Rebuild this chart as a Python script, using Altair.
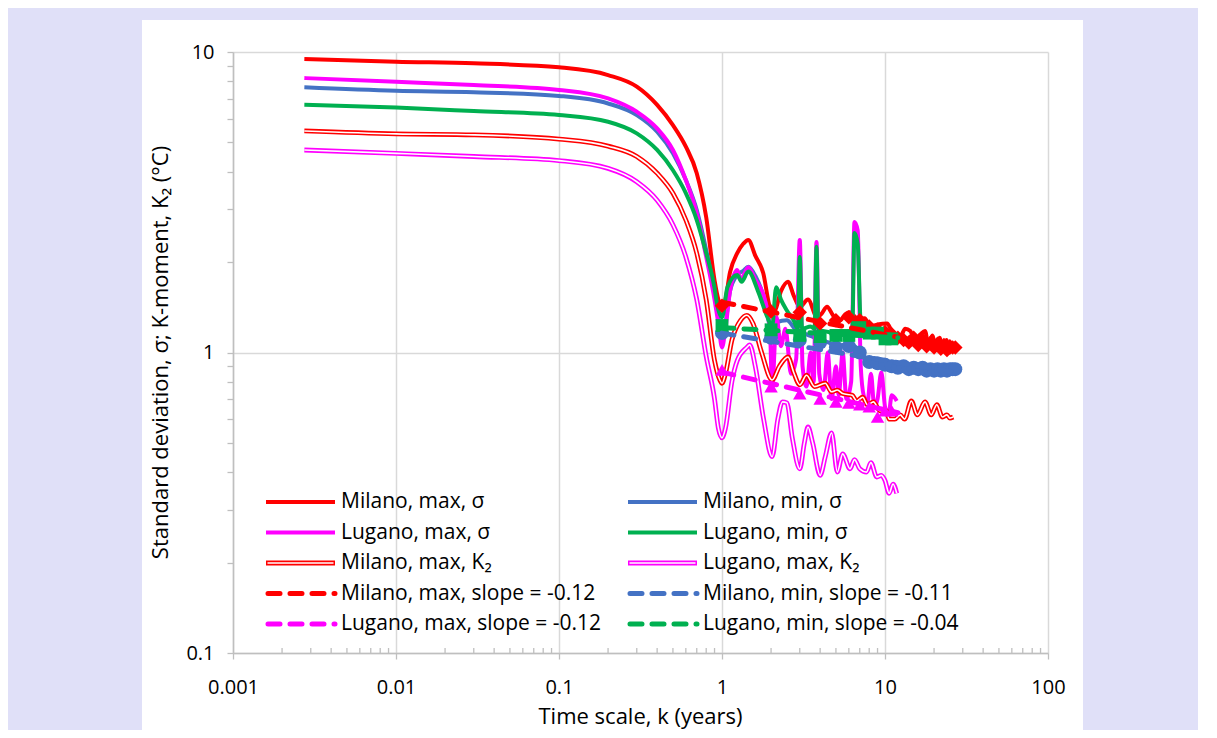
import math
import altair as alt
import pandas as pd

# ---------------- data ----------------
mil_max_sd_k = [0.00274, 0.01, 0.03, 0.1, 0.2, 0.3, 0.4, 0.5, 0.6, 0.7, 0.8, 0.9, 0.95, 1.0, 1.04, 1.12, 1.24, 1.35, 1.45, 1.6, 1.79, 1.97, 2.1, 2.3, 2.54, 2.75, 3.0, 3.37, 3.83, 4.1, 4.41, 4.8, 5.3, 5.7, 6.1, 6.5, 7.0, 7.5, 8.1, 9.0, 10.3, 11.0, 12.4, 13.3, 14.3, 15.2, 16.5, 17.6, 18.5, 19.5, 20.5, 21.6, 22.7, 23.8, 25.0, 26.0, 27.0]
mil_max_sd_v = [9.48, 9.28, 9.17, 8.89, 8.38, 7.67, 6.67, 5.71, 4.84, 3.95, 2.82, 1.74, 1.50, 1.43, 1.47, 1.85, 2.14, 2.30, 2.37, 2.10, 1.84, 1.42, 1.38, 1.60, 1.72, 1.55, 1.42, 1.50, 1.31, 1.35, 1.42, 1.33, 1.28, 1.34, 1.36, 1.32, 1.28, 1.30, 1.22, 1.24, 1.25, 1.18, 1.13, 1.20, 1.18, 1.10, 1.15, 1.18, 1.05, 1.14, 1.03, 1.12, 1.02, 1.10, 1.00, 1.07, 1.03]

mil_min_sd_k = [0.00274, 0.01, 0.03, 0.1, 0.2, 0.3, 0.4, 0.5, 0.6, 0.7, 0.8, 0.9, 0.95, 1.0, 1.05, 1.12, 1.24, 1.35, 1.45, 1.6, 1.85, 2.0, 2.16, 2.5, 2.8, 3.0, 3.3, 3.7, 4.0, 4.5, 5.0, 5.5, 6.0, 6.5, 7.0, 7.5, 8.0, 9.0, 10.0, 11.0, 12.0, 13.0, 14.0, 15.0, 16.0, 17.0, 18.0, 19.0, 20.0, 22.0, 24.0, 27.0]
mil_min_sd_v = [7.63, 7.43, 7.35, 7.14, 6.74, 6.17, 5.43, 4.60, 3.75, 2.98, 2.19, 1.58, 1.30, 1.14, 1.25, 1.60, 1.81, 1.87, 1.93, 1.80, 1.46, 1.19, 1.26, 1.28, 1.20, 1.17, 1.15, 1.12, 1.10, 1.08, 1.05, 1.06, 1.03, 1.05, 1.00, 0.95, 0.93, 0.92, 0.93, 0.90, 0.92, 0.89, 0.88, 0.92, 0.88, 0.90, 0.87, 0.89, 0.87, 0.88, 0.87, 0.88]

lug_max_sd_k = [0.00274, 0.01, 0.03, 0.1, 0.2, 0.3, 0.4, 0.5, 0.6, 0.7, 0.8, 0.9, 0.95, 1.0, 1.05, 1.12, 1.24, 1.3, 1.45, 1.6, 1.85, 1.97, 2.03, 2.16, 2.3, 2.45, 2.65, 2.85, 3.0, 3.12, 3.3, 3.5, 3.65, 3.8, 3.95, 4.2, 4.45, 4.7, 5.0, 5.2, 5.5, 5.8, 6.2, 6.5, 6.8, 7.1, 7.4, 7.8, 8.2, 8.6, 9.0, 9.5, 10.0, 10.5, 11.0, 11.8]
lug_max_sd_v = [8.19, 7.96, 7.76, 7.48, 7.01, 6.33, 5.57, 4.72, 3.75, 2.91, 2.08, 1.50, 1.25, 1.04, 1.20, 1.60, 1.88, 1.75, 1.92, 1.75, 1.47, 1.18, 0.75, 1.31, 1.05, 1.20, 0.85, 0.95, 2.37, 0.90, 0.77, 1.00, 0.80, 2.33, 0.85, 0.75, 1.00, 0.70, 0.90, 0.72, 1.00, 0.70, 0.80, 2.72, 2.55, 0.90, 0.72, 0.68, 0.85, 0.66, 0.70, 0.86, 0.66, 0.62, 0.72, 0.69]

lug_min_sd_k = [0.00274, 0.01, 0.03, 0.1, 0.2, 0.3, 0.4, 0.5, 0.6, 0.7, 0.8, 0.9, 0.93, 1.0, 1.08, 1.24, 1.32, 1.45, 1.67, 1.9, 2.03, 2.15, 2.3, 2.5, 2.75, 2.92, 3.0, 3.1, 3.5, 3.7, 3.8, 3.9, 4.5, 5.0, 5.5, 6.0, 6.3, 6.5, 6.8, 7.1, 7.5, 8.0, 9.0, 10.2, 11.0, 11.8]
lug_min_sd_v = [6.67, 6.53, 6.36, 6.17, 5.86, 5.36, 4.72, 4.04, 3.39, 2.76, 2.14, 1.64, 1.46, 1.31, 1.65, 1.81, 1.72, 1.86, 1.59, 1.31, 1.22, 1.65, 1.50, 1.38, 1.28, 1.20, 2.08, 1.20, 1.22, 1.20, 2.25, 1.19, 1.17, 1.15, 1.18, 1.14, 1.20, 2.50, 2.30, 1.25, 1.20, 1.16, 1.17, 1.17, 1.13, 1.13]

mil_max_k2_k = [0.00274, 0.01, 0.03, 0.1, 0.2, 0.3, 0.4, 0.5, 0.6, 0.7, 0.8, 0.9, 0.97, 1.0, 1.05, 1.15, 1.3, 1.42, 1.55, 1.75, 2.03, 2.25, 2.54, 2.75, 3.0, 3.3, 3.7, 4.3, 4.7, 5.1, 5.5, 6.3, 6.7, 7.3, 7.8, 8.5, 9.3, 10.2, 10.6, 11.5, 12.4, 13.2, 14.5, 15.8, 17.6, 19.2, 20.8, 22.5, 24.0, 25.0, 26.2]
mil_max_k2_v = [5.46, 5.34, 5.30, 5.13, 4.86, 4.49, 3.95, 3.39, 2.76, 2.14, 1.50, 0.94, 0.81, 0.79, 0.85, 1.10, 1.28, 1.33, 1.25, 1.00, 0.81, 0.90, 0.966, 0.86, 0.78, 0.84, 0.77, 0.79, 0.74, 0.75, 0.73, 0.72, 0.69, 0.71, 0.67, 0.685, 0.64, 0.64, 0.60, 0.60, 0.62, 0.60, 0.69, 0.62, 0.685, 0.62, 0.67, 0.61, 0.62, 0.605, 0.61]

lug_max_k2_k = [0.00274, 0.01, 0.03, 0.1, 0.2, 0.3, 0.4, 0.5, 0.6, 0.7, 0.8, 0.9, 0.95, 1.0, 1.05, 1.15, 1.24, 1.42, 1.48, 1.6, 1.8, 2.03, 2.2, 2.35, 2.5, 2.7, 3.0, 3.2, 3.37, 3.6, 4.0, 4.3, 4.7, 5.1, 5.5, 6.1, 6.5, 7.0, 7.7, 8.2, 8.9, 9.5, 10.0, 10.6, 11.2, 11.8]
lug_max_k2_v = [4.72, 4.60, 4.49, 4.35, 4.10, 3.70, 3.21, 2.66, 2.08, 1.50, 0.97, 0.70, 0.56, 0.52, 0.56, 0.80, 0.94, 1.04, 1.06, 0.90, 0.60, 0.45, 0.60, 0.685, 0.68, 0.52, 0.41, 0.50, 0.565, 0.50, 0.39, 0.45, 0.54, 0.40, 0.46, 0.41, 0.44, 0.41, 0.40, 0.43, 0.385, 0.39, 0.375, 0.34, 0.365, 0.34]

# values at whole years (markers)
mil_years = list(range(1, 28))
mil_max_pts = [1.43, 1.37, 1.36, 1.25, 1.28, 1.31, 1.28, 1.22, 1.19, 1.17, 1.15, 1.12, 1.10, 1.08, 1.12, 1.06, 1.10, 1.05, 1.08, 1.04, 1.07, 1.03, 1.06, 1.02, 1.05, 1.04, 1.04]
mil_min_pts = [1.16, 1.12, 1.10, 1.08, 1.04, 1.05, 1.00, 0.93, 0.92, 0.91, 0.90, 0.89, 0.90, 0.88, 0.89, 0.88, 0.89, 0.87, 0.88, 0.87, 0.88, 0.87, 0.88, 0.87, 0.88, 0.88, 0.88]
lug_years = list(range(1, 12))
lug_max_pts = [0.875, 0.77, 0.73, 0.70, 0.685, 0.68, 0.67, 0.66, 0.61, 0.64, 0.64]
lug_min_pts = [1.23, 1.19, 1.14, 1.13, 1.14, 1.14, 1.21, 1.16, 1.16, 1.11, 1.11]

# fitted power-law lines (end points)
mil_max_fit_k = [1, 27]
mil_max_fit_v = [1.47, 1.03]
mil_min_fit_k = [1, 27]
mil_min_fit_v = [1.16, 0.86]
lug_max_fit_k = [1, 12]
lug_max_fit_v = [0.86, 0.63]
lug_min_fit_k = [1, 12]
lug_min_fit_v = [1.21, 1.12]

series_names = ["Milano, max, σ", "Milano, min, σ", "Lugano, max, σ", "Lugano, min, σ",
                "Milano, max, K₂", "Lugano, max, K₂",
                "Milano, max, slope = -0.12", "Milano, min, slope = -0.11",
                "Lugano, max, slope = -0.12", "Lugano, min, slope = -0.04"]

x_ticks = [round(a * 10.0 ** e, 6) for e in range(-3, 2) for a in range(1, 10)] + [100]
y_ticks = [round(a * 10.0 ** e, 6) for e in range(-1, 1) for a in range(1, 10)] + [10]
x_minor = [t for t in x_ticks if abs(round(math.log10(t)) - math.log10(t)) > 1e-6]

# ---------------- styling ----------------
RED, MAG, BLUE, GREEN = "#FF0000", "#FF00FF", "#4472C4", "#00B050"
series_colors = [RED, BLUE, MAG, GREEN, RED, MAG, RED, BLUE, MAG, GREEN]
LAVENDER = "#E0E0F8"
AXIS_GRAY = "#bfbfbf"
FONT = "Open Sans"
FS_LABEL, FS_LEG, FS_TITLE = 20, 21, 22
W, H = 815, 601


def frame(k, v, name):
    assert len(k) == len(v), name
    return pd.DataFrame({"k": k, "v": v, "series": name})


sd_df = pd.concat([
    frame(mil_max_sd_k, mil_max_sd_v, series_names[0]),
    frame(mil_min_sd_k, mil_min_sd_v, series_names[1]),
    frame(lug_max_sd_k, lug_max_sd_v, series_names[2]),
    frame(lug_min_sd_k, lug_min_sd_v, series_names[3]),
])
k2_df = pd.concat([
    frame(mil_max_k2_k, mil_max_k2_v, series_names[4]),
    frame(lug_max_k2_k, lug_max_k2_v, series_names[5]),
])
pts_df = pd.concat([
    frame(mil_years, mil_max_pts, series_names[6]),
    frame(mil_years, mil_min_pts, series_names[7]),
    frame(lug_years, lug_max_pts, series_names[8]),
    frame(lug_years, lug_min_pts, series_names[9]),
])
fit_df = pd.concat([
    frame(mil_max_fit_k, mil_max_fit_v, series_names[6]),
    frame(mil_min_fit_k, mil_min_fit_v, series_names[7]),
    frame(lug_max_fit_k, lug_max_fit_v, series_names[8]),
    frame(lug_min_fit_k, lug_min_fit_v, series_names[9]),
])
minor_df = pd.DataFrame({"k": x_minor})

decade = "abs(log(datum.value)/LN10 - round(log(datum.value)/LN10)) < 0.001"

xscale = alt.Scale(type="log", domain=[0.001, 100], nice=False)
yscale = alt.Scale(type="log", domain=[0.1, 10], nice=False)
cscale = alt.Scale(domain=series_names, range=series_colors)

x_axis = alt.Axis(
    values=x_ticks, format="~g", labelExpr=f"({decade}) ? datum.label : ''",
    grid=True, gridColor="#d9d9d9", gridWidth=1.5,
    gridOpacity={"condition": {"test": decade, "value": 1}, "value": 0},
    tickSize=6,
    tickOpacity={"condition": {"test": decade, "value": 1}, "value": 0},
    tickColor=AXIS_GRAY, tickWidth=1.3, domainColor=AXIS_GRAY, domainWidth=1.5,
    labelFont=FONT, labelFontSize=FS_LABEL, labelColor="black", labelPadding=18,
    labelOverlap=False, labelFlush=False,
    title="Time scale, k (years)", titleFont=FONT, titleFontSize=FS_TITLE,
    titleFontWeight="normal", titleColor="black",
    titleX=407, titleY=63, titleAlign="center", titleBaseline="middle",
)
y_axis = alt.Axis(
    values=y_ticks, format="~g", labelExpr=f"({decade}) ? datum.label : ''",
    grid=True, gridColor="#d9d9d9", gridWidth=1.5,
    gridOpacity={"condition": {"test": decade, "value": 1}, "value": 0},
    tickSize=6, tickColor=AXIS_GRAY, tickWidth=1.3,
    domainColor=AXIS_GRAY, domainWidth=1.5,
    labelFont=FONT, labelFontSize=FS_LABEL, labelColor="black", labelPadding=13,
    labelOverlap=False, labelFlush=False,
    title="Standard deviation, σ; K-moment, K₂ (°C)", titleFont=FONT,
    titleFontSize=FS_TITLE, titleFontWeight="normal", titleColor="black",
    titleX=-73, titleY=300, titleAngle=270, titleAlign="center", titleBaseline="middle",
)

one = pd.DataFrame({"a": [0]})

# lavender surround (the chart panel itself is the white background)
surround = [
    alt.Chart(one).mark_rect(color=LAVENDER).encode(
        x=alt.value(-240), x2=alt.value(-91), y=alt.value(-60), y2=alt.value(720)),
    alt.Chart(one).mark_rect(color=LAVENDER).encode(
        x=alt.value(850), x2=alt.value(1000), y=alt.value(-60), y2=alt.value(720)),
    alt.Chart(one).mark_rect(color=LAVENDER).encode(
        x=alt.value(-240), x2=alt.value(1000), y=alt.value(-60), y2=alt.value(-32)),
]

X = alt.X("k:Q", scale=xscale, axis=x_axis)
Y = alt.Y("v:Q", scale=yscale, axis=y_axis)
C = alt.Color("series:N", scale=cscale, legend=None)

# minor ticks of the time axis point inwards (up from the axis line)
minor_ticks = alt.Chart(minor_df).mark_rule(color=AXIS_GRAY, strokeWidth=1.3).encode(
    x=X, y=alt.value(H - 5), y2=alt.value(H))

sd_lines = alt.Chart(sd_df).mark_line(strokeWidth=4, strokeJoin="round",
                                      interpolate="monotone").encode(x=X, y=Y, color=C)
k2_outer = alt.Chart(k2_df).mark_line(strokeWidth=4.8, strokeJoin="round",
                                      interpolate="monotone").encode(x=X, y=Y, color=C)
k2_inner = alt.Chart(k2_df).mark_line(strokeWidth=1.6, strokeJoin="round", color="white",
                                      interpolate="monotone").encode(
    x=X, y=Y, detail="series:N")
markers = alt.Chart(pts_df).mark_point(filled=True, opacity=1).encode(
    x=X, y=Y, color=C,
    shape=alt.Shape("series:N", scale=alt.Scale(domain=series_names[6:],
                    range=["diamond", "circle", "triangle-up", "square"]), legend=None),
    size=alt.Size("series:N", scale=alt.Scale(domain=series_names[6:],
                  range=[210, 165, 250, 185]), legend=None))
fits = alt.Chart(fit_df).mark_line(strokeWidth=5, strokeDash=[12, 10], strokeCap="round").encode(
    x=X, y=Y, color=C)

# legend drawn inside the plot (two columns, five rows)
leg_layers = []
styles = ["solid"] * 4 + ["double"] * 2 + ["dash"] * 4
for i, (name, col, sty) in enumerate(zip(series_names, series_colors, styles)):
    c, r = i % 2, i // 2
    x0 = 33 + c * 362
    x1 = x0 + 69
    yy = 450 + r * 30.5
    if sty == "solid":
        leg_layers.append(alt.Chart(one).mark_rule(color=col, strokeWidth=4).encode(
            x=alt.value(x0), x2=alt.value(x1), y=alt.value(yy)))
    elif sty == "double":
        leg_layers.append(alt.Chart(one).mark_rule(color=col, strokeWidth=4.8).encode(
            x=alt.value(x0), x2=alt.value(x1), y=alt.value(yy)))
        leg_layers.append(alt.Chart(one).mark_rule(color="white", strokeWidth=1.6).encode(
            x=alt.value(x0 + 1.5), x2=alt.value(x1 - 1.5), y=alt.value(yy)))
    else:
        leg_layers.append(alt.Chart(one).mark_rule(color=col, strokeWidth=5, strokeDash=[12, 10],
                                                    strokeCap="round").encode(
            x=alt.value(x0 + 2), x2=alt.value(x1), y=alt.value(yy)))
    leg_layers.append(alt.Chart(one).mark_text(text=name, align="left", baseline="middle",
                                               font=FONT, fontSize=FS_LEG, color="black").encode(
        x=alt.value(x1 + 6), y=alt.value(yy)))

chart = alt.layer(*surround, minor_ticks, sd_lines, k2_outer, k2_inner, markers, fits,
                  *leg_layers).properties(
    width=W, height=H,
    padding={"left": 225, "top": 44, "right": 150, "bottom": 77},
    autosize=alt.AutoSizeParams(type="none"),
    background="white",
).configure_view(stroke=None)

chart.save("out.html", embed_options={"renderer": "svg", "actions": False})
